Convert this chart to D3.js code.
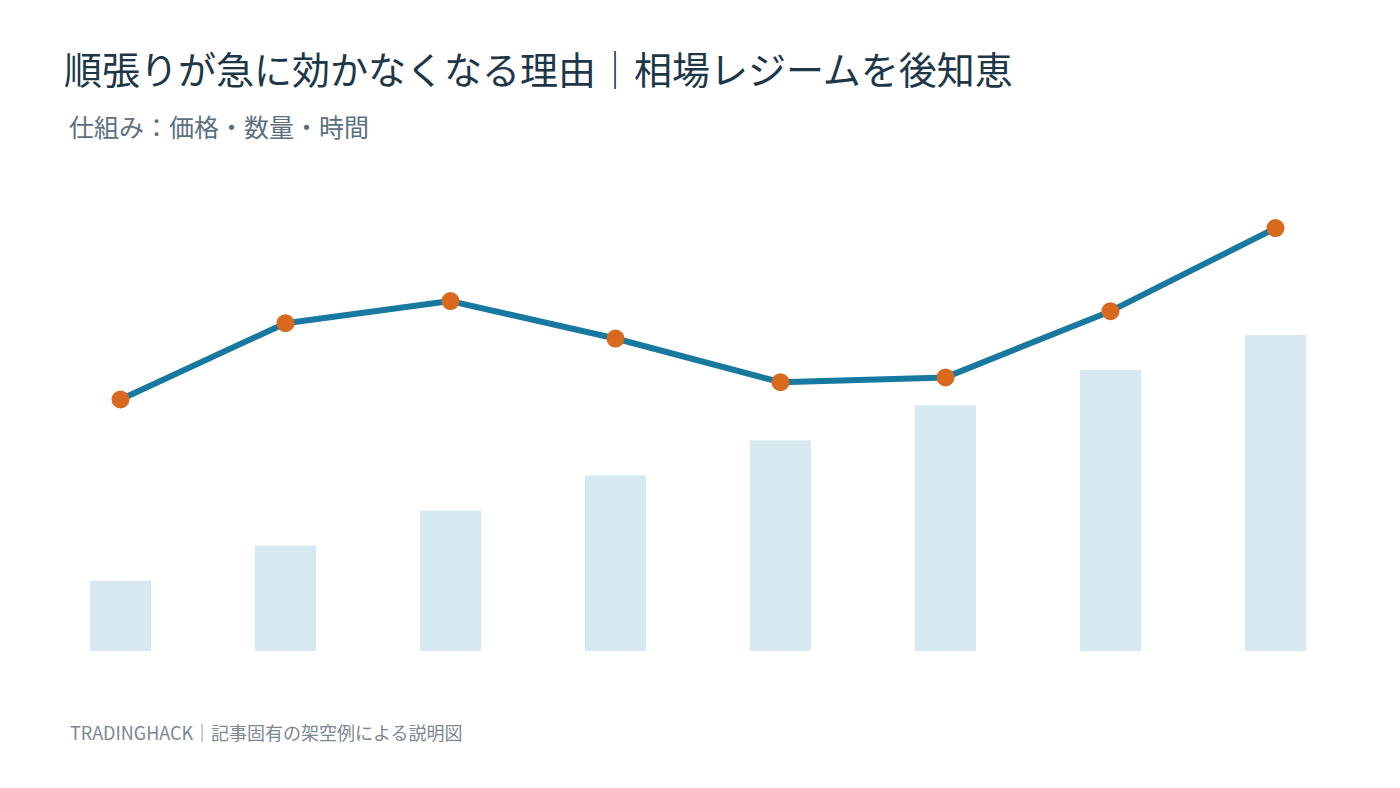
<!DOCTYPE html>
<html lang="ja">
<head>
<meta charset="utf-8">
<script src="https://cdn.jsdelivr.net/npm/d3@7"></script>
<style>
  html, body { margin: 0; padding: 0; background: #fff; }
  svg { display: block; font-family: "Noto Sans CJK JP", "Noto Sans", sans-serif; }
</style>
</head>
<body>
<div id="chart"></div>
<script>
// Chart data
const periods = ['P1', 'P2', 'P3', 'P4', 'P5', 'P6', 'P7', 'P8'];
const volume = [2, 3, 4, 5, 6, 7, 8, 9];          // bars (数量)
const price = [52.4, 68.3, 72.9, 65.1, 56.0, 57.0, 70.8, 88.1]; // line (価格)

const titleText = '順張りが急に効かなくなる理由｜相場レジームを後知恵';
const subtitleText = '仕組み：価格・数量・時間';
const footerText = 'TRADINGHACK｜記事固有の架空例による説明図';

const width = 1400, height = 788;

const svg = d3.select('#chart')
    .append('svg')
    .attr('width', width)
    .attr('height', height);

// Scales
const x = d3.scaleBand()
    .domain(periods)
    .range([38, 1358])
    .paddingInner(0.63)
    .paddingOuter(0.315);

const yBar = d3.scaleLinear().domain([0, 9]).range([651, 335]);
const yLine = d3.scaleLinear().domain([0, 100]).range([651, 171]);

const rows = periods.map((p, i) => ({ period: p, volume: volume[i], price: price[i] }));

// Bars
svg.append('g')
    .selectAll('rect')
    .data(rows)
    .enter()
    .append('rect')
    .attr('x', d => x(d.period))
    .attr('y', d => yBar(d.volume))
    .attr('width', x.bandwidth())
    .attr('height', d => yBar(0) - yBar(d.volume))
    .attr('fill', '#d6e9f1');

// Line
const line = d3.line()
    .x(d => x(d.period) + x.bandwidth() / 2)
    .y(d => yLine(d.price));

svg.append('path')
    .datum(rows)
    .attr('d', line)
    .attr('fill', 'none')
    .attr('stroke', '#17799f')
    .attr('stroke-width', 6)
    .attr('stroke-linejoin', 'round');

// Points
svg.append('g')
    .selectAll('circle')
    .data(rows)
    .enter()
    .append('circle')
    .attr('cx', d => x(d.period) + x.bandwidth() / 2)
    .attr('cy', d => yLine(d.price))
    .attr('r', 9)
    .attr('fill', '#d8691f');

// Titles
svg.append('text')
    .attr('x', 64)
    .attr('y', 84)
    .style('font-size', '38px')
    .attr('fill', '#1d3749')
    .text(titleText);

svg.append('text')
    .attr('x', 69)
    .attr('y', 137)
    .style('font-size', '25px')
    .attr('fill', '#5b6f7e')
    .text(subtitleText);

svg.append('text')
    .attr('x', 70)
    .attr('y', 740)
    .style('font-size', '18px')
    .attr('fill', '#7b8792')
    .text(footerText);
</script>
</body>
</html>
